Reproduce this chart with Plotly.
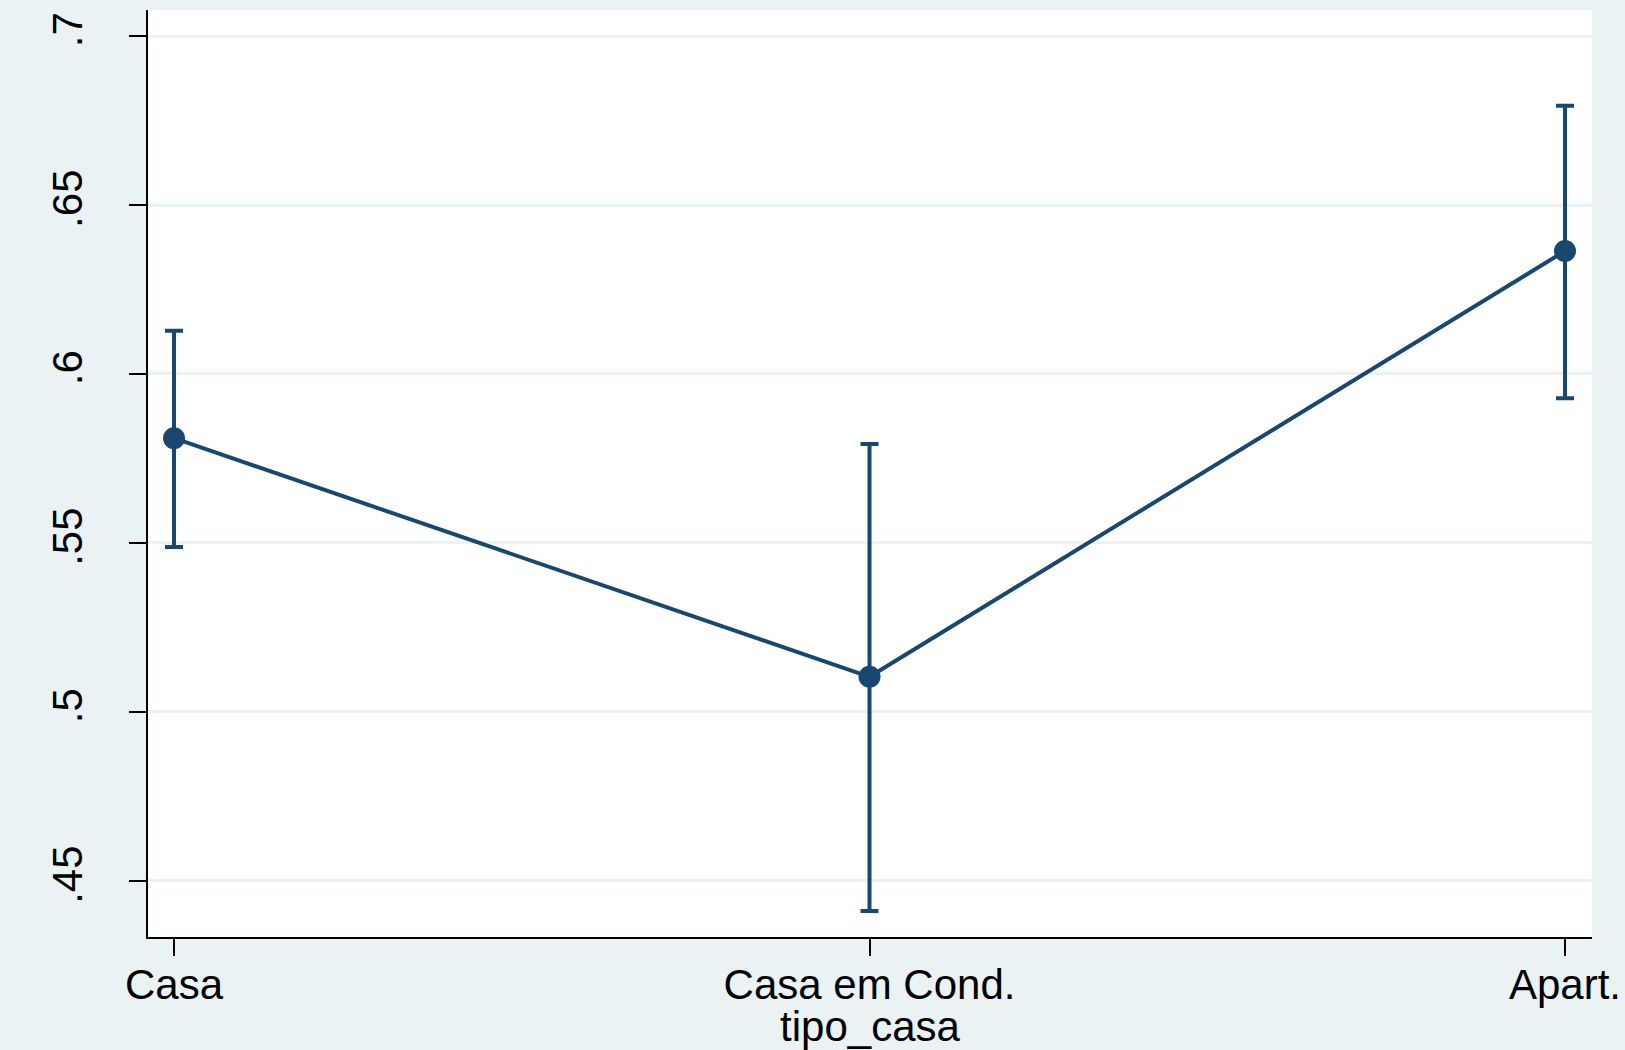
import plotly.graph_objects as go

categories = ["Casa", "Casa em Cond.", "Apart."]
margins = [0.581, 0.5104, 0.6364]
ci_upper = [0.6128, 0.5793, 0.6794]
ci_lower = [0.5488, 0.4411, 0.5928]
y_ticks = [0.45, 0.5, 0.55, 0.6, 0.65, 0.7]
y_tick_labels = [".45", ".5", ".55", ".6", ".65", ".7"]

x_pos = list(range(len(categories)))
err_plus = [u - m for u, m in zip(ci_upper, margins)]
err_minus = [m - l for m, l in zip(margins, ci_lower)]

navy = "#1a476f"
bg = "#eaf2f3"

fig = go.Figure()
fig.add_trace(go.Scatter(
    x=x_pos, y=margins, mode="lines+markers",
    line=dict(color=navy, width=4),
    marker=dict(color=navy, size=22),
    error_y=dict(type="data", symmetric=False, array=err_plus, arrayminus=err_minus,
                 color=navy, thickness=4, width=9),
    showlegend=False,
))

font = dict(family="Liberation Sans, Arial, sans-serif", size=42, color="black")

fig.update_layout(
    width=1625, height=1050,
    paper_bgcolor=bg, plot_bgcolor="white",
    margin=dict(l=148, r=33, t=10, b=113),
    font=font,
    xaxis=dict(
        range=[-0.0374, 2.0388], tickvals=x_pos, ticktext=categories,
        showgrid=False, zeroline=False, automargin=False,
        showline=True, linecolor="black", linewidth=2,
        ticks="outside", ticklen=17, tickwidth=2, tickcolor="black",
        ticklabelstandoff=-7,
        title=dict(text="tipo_casa", standoff=9, font=font),
        tickfont=font,
    ),
    yaxis=dict(
        range=[0.4334, 0.7077], tickvals=y_ticks, ticktext=y_tick_labels,
        tickangle=-90, ticklabelstandoff=30, automargin=False,
        showgrid=True, gridcolor=bg, gridwidth=3, zeroline=False,
        showline=True, linecolor="black", linewidth=2,
        ticks="outside", ticklen=17, tickwidth=2, tickcolor="black",
        tickfont=font,
    ),
)

fig.write_html(
    "out.html",
    config={"displayModeBar": False},
    post_script="document.body.style.margin='0';document.body.style.background='%s';document.body.style.overflow='hidden';" % bg,
)
